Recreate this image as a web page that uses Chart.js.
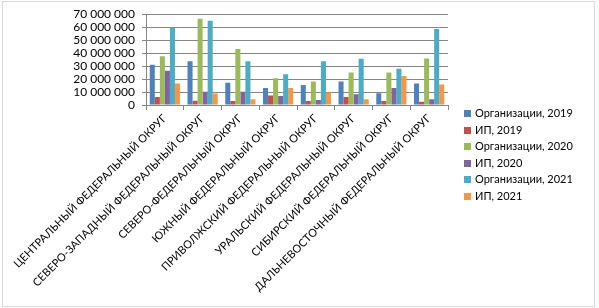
<!DOCTYPE html>
<html>
<head>
<meta charset="utf-8">
<script src="https://cdn.jsdelivr.net/npm/chart.js@4/dist/chart.umd.min.js"></script>
<style>
  html, body { margin: 0; padding: 0; background: #fff; }
  #wrap { position: relative; width: 599px; height: 308px; }
  #frame { position: absolute; left: 2px; top: 1px; width: 591px; height: 304px; border: 1px solid #d9d9d9; }
  #chart { position: absolute; left: 0; top: 0; }
  #legend { position: absolute; left: 464px; top: 106px; font: 11px Lato, sans-serif; color: #000; }
  #legend div { height: 16.6px; line-height: 13px; white-space: nowrap; }
  #legend span { display: inline-block; width: 7px; height: 7px; margin-right: 4px; vertical-align: 0px; }
</style>
</head>
<body>
<div id="wrap">
  <div id="frame"></div>
  <canvas id="chart" width="599" height="308"></canvas>
  <div id="legend"></div>
</div>
<script>
// ==================== DATA ====================
const districts = [
    'ЦЕНТРАЛЬНЫЙ ФЕДЕРАЛЬНЫЙ ОКРУГ',
    'СЕВЕРО-ЗАПАДНЫЙ ФЕДЕРАЛЬНЫЙ ОКРУГ',
    'СЕВЕРО-ФЕДЕРАЛЬНЫЙ ОКРУГ',
    'ЮЖНЫЙ ФЕДЕРАЛЬНЫЙ ОКРУГ',
    'ПРИВОЛЖСКИЙ ФЕДЕРАЛЬНЫЙ ОКРУГ',
    'УРАЛЬСКИЙ ФЕДЕРАЛЬНЫЙ ОКРУГ',
    'СИБИРСКИЙ ФЕДЕРАЛЬНЫЙ ОКРУГ',
    'ДАЛЬНЕВОСТОЧНЫЙ ФЕДЕРАЛЬНЫЙ ОКРУГ'
];

const org2019 = [31000000, 33800000, 17100000, 13100000, 15400000, 18100000, 9000000, 16600000];
const ip2019  = [6100000, 3300000, 3100000, 7400000, 3100000, 6100000, 3100000, 2600000];
const org2020 = [37600000, 66400000, 43100000, 20700000, 18100000, 25000000, 25000000, 35900000];
const ip2020  = [26400000, 10200000, 10200000, 6900000, 3800000, 8300000, 13100000, 4500000];
const org2021 = [59500000, 65000000, 33800000, 23800000, 33800000, 35700000, 27900000, 58600000];
const ip2021  = [16600000, 8800000, 4500000, 13100000, 9700000, 4500000, 22400000, 15900000];

const seriesNames = ['Организации, 2019', 'ИП, 2019', 'Организации, 2020', 'ИП, 2020', 'Организации, 2021', 'ИП, 2021'];
const seriesColors = ['#4F81BD', '#C0504D', '#9BBB59', '#8064A2', '#4BACC6', '#F79646'];
const yTicks = [0, 10000000, 20000000, 30000000, 40000000, 50000000, 60000000, 70000000];

// "70 000 000" style
function fmt(v) {
    return String(Math.round(v)).replace(/\B(?=(\d{3})+(?!\d))/g, ' ');
}

const FONT = 'Lato';
const allSeries = [org2019, ip2019, org2020, ip2020, org2021, ip2021];

// HTML legend on the right
const legendEl = document.getElementById('legend');
seriesNames.forEach((name, i) => {
    const row = document.createElement('div');
    const box = document.createElement('span');
    box.style.background = seriesColors[i];
    row.appendChild(box);
    row.appendChild(document.createTextNode(name));
    legendEl.appendChild(row);
});

new Chart(document.getElementById('chart'), {
    type: 'bar',
    data: {
        labels: districts,
        datasets: allSeries.map((data, i) => ({
            label: seriesNames[i],
            data: data,
            backgroundColor: seriesColors[i],
            borderWidth: 0,
            categoryPercentage: 0.8,
            barPercentage: 1.0
        }))
    },
    options: {
        responsive: false,
        animation: false,
        layout: { padding: { top: -5, right: 151, bottom: 0, left: 4 } },
        plugins: {
            tooltip: { enabled: false },
            legend: { display: false }
        },
        scales: {
            x: {
                afterFit: (axis) => { axis.height = 203; },
                grid: { display: true, drawOnChartArea: false, drawTicks: true, tickLength: 5, color: '#868686' },
                border: { display: true, color: '#868686' },
                ticks: {
                    autoSkip: false,
                    minRotation: 45,
                    maxRotation: 45,
                    padding: 2,
                    color: '#000',
                    font: { family: FONT, size: 11 }
                }
            },
            y: {
                min: 0,
                max: 70000000,
                afterFit: (axis) => { axis.width = 142; },
                afterBuildTicks: (axis) => { axis.ticks = yTicks.map(v => ({ value: v })); },
                grid: { color: '#868686', tickLength: 4 },
                border: { display: true, color: '#868686' },
                ticks: {
                    autoSkip: false,
                    padding: 7,
                    color: '#000',
                    font: { family: FONT, size: 12 },
                    callback: (v) => fmt(v)
                }
            }
        }
    }
});
</script>
</body>
</html>
